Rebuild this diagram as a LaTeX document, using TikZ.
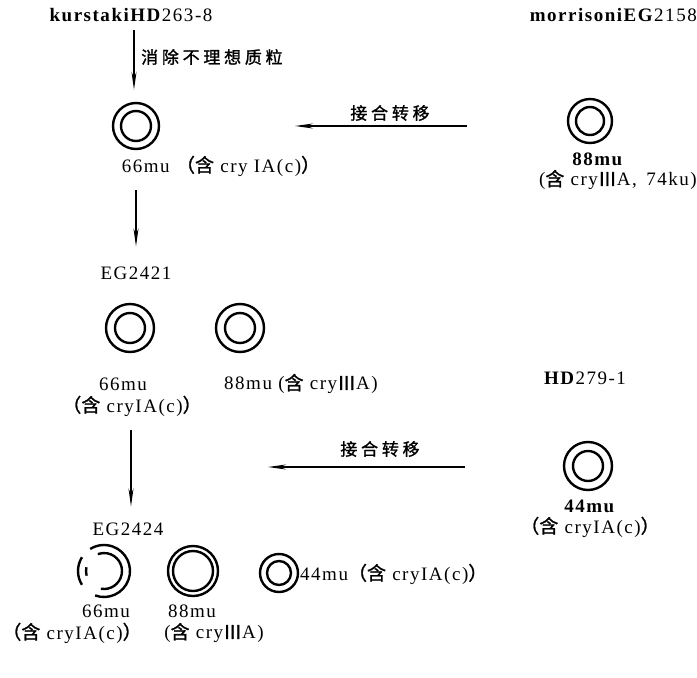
\documentclass[tikz,border=0pt]{standalone}
\usepackage{fontspec}
\setmainfont{Liberation Serif}
\newfontfamily\cjk[FakeBold=1.2]{Noto Sans CJK SC}
\usetikzlibrary{arrows.meta,calc}
\begin{document}
\begin{tikzpicture}[x=1pt,y=-1pt,
  font=\fontsize{19}{21}\selectfont\addfontfeature{LetterSpace=8},
  lbl/.style={inner sep=0pt},
  cjkt/.style={inner sep=0pt, font=\fontsize{17}{19}\cjk\addfontfeature{LetterSpace=22}},
  ring/.style={circle, draw, line width=2.4pt, minimum size=#1, inner sep=0pt},
  conn/.style={line width=1.4pt, -{Stealth[length=18pt,width=5pt]}},
  arcline/.style={line width=2.4pt}
]
\useasboundingbox (0,0) rectangle (697,678);
% titles
\node[lbl] (k) at (131,15) {\textbf{kurstakiHD}263-8};
\node[lbl, anchor=east] (m) at (697,15) {\textbf{morrisoniEG}2158};
% ring 1
\node[ring=46pt] (c1) at (136,126) {};
\node[ring=30pt] at (c1) {};
\node[lbl] (t1) at (221,166) {66mu {\cjk（含} cry IA(c){\cjk）}};
% morrisoni ring
\node[ring=44pt] (mr) at (590,121) {};
\node[ring=28pt] at (mr) {};
\node[lbl] (tm1) at (598,159) {\textbf{88mu}};
\node[lbl, anchor=east] (tm2) at (697,180) {({\cjk 含} cry{\cjk Ⅲ}A, \,74ku)};
% connector 1
\draw[conn] ($(k.south -| c1)+(-2,8)$) -- ($(c1.north)+(-2,-12)$);
\node[cjkt, anchor=west] at (141,57) {消除不理想质粒};
% conjugation 1
\coordinate (j1s) at (467,126);
\coordinate (j1e) at (295,126);
\draw[conn] (j1s) -- (j1e);
\node[cjkt] at (390,113) {接合转移};
% down to EG2421
\node[lbl] (e1) at (136,273) {EG2421};
\draw[conn] ($(t1.south -| e1)+(0,14)$) -- ($(e1.north)+(0,-20)$);
% EG2421 rings
\node[ring=48pt] (c2) at (130,328) {};
\node[ring=30pt] at (c2) {};
\node[ring=48pt] (c3) at (240,328) {};
\node[ring=30pt] at (c3) {};
\node[lbl] (t2a) at (123,384) {66mu};
\node[lbl] (t2b) at (132,406) {{\cjk （含} cryIA(c){\cjk ）}};
\node[lbl] (t3) at (301,384) {88mu ({\cjk 含} cry{\cjk Ⅲ}A)};
% HD279-1
\node[lbl] (h) at (585,378) {\textbf{HD}279-1};
\node[ring=48pt] (c4) at (588,466) {};
\node[ring=30pt] at (c4) {};
\node[lbl] (t4a) at (590,506) {\textbf{44mu}};
\node[lbl] (t4b) at (590,527) {{\cjk （含} cryIA(c){\cjk ）}};
% conjugation 2
\coordinate (j2s) at (465,467);
\coordinate (j2e) at (268,467);
\draw[conn] (j2s) -- (j2e);
\node[cjkt] at (380,449) {接合转移};
% down to EG2424
\node[lbl] (e2) at (128,529) {EG2424};
\draw[conn] ($(t2b.south -| e2)+(3,14)$) -- ($(e2.north)+(3,-16)$);
% EG2424 rings
\coordinate (b1) at (104,571);
\draw[arcline] (b1) ++(110:26) arc[start angle=110, end angle=-122, radius=26];
\draw[arcline] (b1) ++(148:26) arc[start angle=148, end angle=212, radius=26];
\draw[arcline] (b1) ++(100:18) arc[start angle=100, end angle=-110, radius=18];
\draw[arcline] (b1) ++(165:18) arc[start angle=165, end angle=192, radius=18];
\node[ring=50pt] (c5) at (193,571) {};
\node[ring=40pt] at (c5) {};
\node[ring=38pt] (c6) at (279,573) {};
\node[ring=24pt] at (c6) {};
\node[lbl, anchor=west] (t6) at (300,574) {44mu{\cjk （含} cryIA(c){\cjk ）}};
\node[lbl] (t5a) at (106,611) {66mu};
\node[lbl] (t5b) at (72,633) {{\cjk （含} cryIA(c){\cjk ）}};
\node[lbl] (t7a) at (192,611) {88mu};
\node[lbl] (t7b) at (214,633) {({\cjk 含} cry{\cjk Ⅲ}A)};
\end{tikzpicture}
\end{document}
